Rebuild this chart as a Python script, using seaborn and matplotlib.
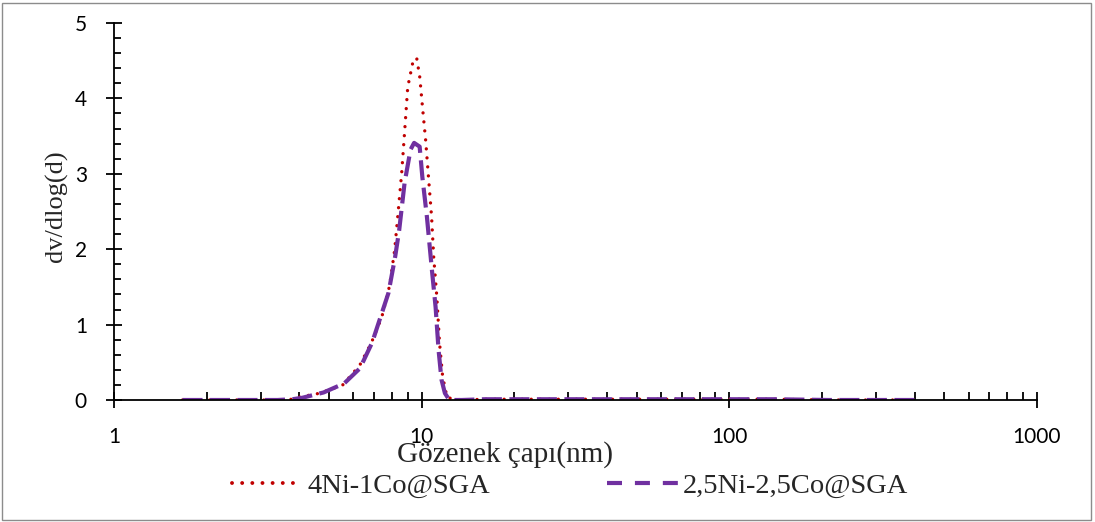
import matplotlib
matplotlib.use("Agg")
import matplotlib.pyplot as plt
import seaborn as sns
import pandas as pd
import numpy as np
from matplotlib.patches import Rectangle
from matplotlib.lines import Line2D
from matplotlib.ticker import LogLocator, FixedLocator, NullFormatter, MultipleLocator

# ---- data ----
pore_red = [1.67, 2.0, 2.4, 2.9, 3.4, 3.8, 4.02, 4.67, 5.54, 6.29, 6.88, 7.41, 7.87, 8.17, 8.36,
            8.61, 8.81, 9.01, 9.35, 9.63, 9.86, 10.08, 10.3, 10.54, 10.77, 10.94, 11.2, 11.43,
            11.7, 12.1, 13.5, 16, 20, 27, 40, 60, 90, 140, 210, 300, 414]
dv_red = [0.0, 0.0, 0.0, 0.0, 0.0, 0.01, 0.04, 0.09, 0.2, 0.46, 0.77, 1.09, 1.52, 1.99, 2.43,
          3.01, 3.58, 4.15, 4.47, 4.54, 4.28, 3.85, 3.45, 2.92, 2.43, 1.9, 1.37, 0.76,
          0.31, 0.03, 0.0, 0.01, 0.01, 0.01, 0.01, 0.01, 0.01, 0.01, 0.0, 0.0, 0.0]

pore_pur = [1.67, 2.0, 2.4, 2.9, 3.4, 3.8, 4.1, 4.8, 5.6, 6.3, 6.9, 7.8, 8.2, 8.45, 8.8, 9.2,
            9.45, 9.85, 10.05, 10.4, 10.8, 11.1, 11.35, 11.6, 11.9, 12.3, 13.5, 16, 20, 27,
            40, 60, 90, 140, 210, 300, 414]
dv_pur = [0.0, 0.0, 0.0, 0.0, 0.0, 0.01, 0.03, 0.1, 0.22, 0.42, 0.76, 1.42, 1.9, 2.25, 2.88, 3.32,
          3.41, 3.36, 2.96, 2.43, 1.72, 1.23, 0.66, 0.27, 0.09, 0.0, 0.0, 0.01, 0.01, 0.01,
          0.01, 0.01, 0.01, 0.01, 0.0, 0.0, 0.0]

series_names = ["4Ni-1Co@SGA", "2,5Ni-2,5Co@SGA"]
x_ticks = [1, 10, 100, 1000]
x_ticklabels = ["1", "10", "100", "1000"]
y_ticks = [0, 1, 2, 3, 4, 5]

df = pd.concat([
    pd.DataFrame({"d": pore_red, "v": dv_red, "s": series_names[0]}),
    pd.DataFrame({"d": pore_pur, "v": dv_pur, "s": series_names[1]}),
], ignore_index=True)

sns.set_theme(style="white")
plt.rcParams["font.family"] = ["Lato", "DejaVu Sans"]

W, H = 1095, 522
fig = plt.figure(figsize=(W / 100, H / 100), dpi=100)
ax = fig.add_axes([114 / W, 1 - 400 / H, (1037 - 114) / W, (400 - 23) / H])

red = "#C00000"
purple = "#7030A0"
sns.lineplot(data=df[df.s == series_names[0]], x="d", y="v", ax=ax, sort=False,
             color=red, lw=2.4, estimator=None, legend=False)
sns.lineplot(data=df[df.s == series_names[1]], x="d", y="v", ax=ax, sort=False,
             color=purple, lw=3.0, estimator=None, legend=False)
l1, l2 = ax.get_lines()[:2]
l1.set_linestyle((0, (0.01, 2.7)))
l1.set_dash_capstyle("round")
l2.set_linestyle((0, (4.8, 1.8)))

ax.set_xscale("log")
ax.set_xlim(1, 1000)
ax.set_ylim(0, 5)
ax.xaxis.set_major_locator(FixedLocator(x_ticks))
ax.set_xticklabels(x_ticklabels)
ax.xaxis.set_minor_locator(LogLocator(base=10, subs=np.arange(2, 10)))
ax.xaxis.set_minor_formatter(NullFormatter())
ax.yaxis.set_major_locator(FixedLocator(y_ticks))
ax.yaxis.set_minor_locator(MultipleLocator(0.2))

for s in ["top", "right"]:
    ax.spines[s].set_visible(False)
for s in ["left", "bottom"]:
    ax.spines[s].set_color("black")
    ax.spines[s].set_linewidth(1.3)

ax.tick_params(axis="both", which="major", direction="inout", length=11, width=1.3,
               colors="black", labelsize=15)
ax.tick_params(axis="x", which="major", pad=14)
ax.tick_params(axis="y", which="major", pad=14)
ax.tick_params(axis="x", which="minor", direction="in", length=6, width=1.3, color="black")
ax.tick_params(axis="y", which="minor", direction="in", length=5, width=1.3, color="black")
ax.tick_params(axis="both", which="both", bottom=True, left=True)

ax.set_xlabel("Gözenek çapı(nm)", family=["Liberation Serif"], fontsize=21)
ax.xaxis.set_label_coords((505 - 114) / 923, (400 - 455) / 377)
ax.xaxis.label.set_va("center")
ax.set_ylabel("dv/dlog(d)", family=["Liberation Serif"], fontsize=19)
ax.yaxis.set_label_coords((56 - 114) / 923, (400 - 206) / 377)
ax.yaxis.label.set_va("center")

# legend below the plot, two entries placed as in the reference
h_red = Line2D([], [], color=red, lw=2.8, linestyle=(0, (0.01, 2.6)), dash_capstyle="round")
h_pur = Line2D([], [], color=purple, lw=3.0, linestyle=(0, (3.6, 3.1)))
ly = 1 - 486 / H
fig.legend(handles=[h_red], labels=[series_names[0]], loc="center left",
           bbox_to_anchor=(232 / W, ly), frameon=False, borderpad=0, borderaxespad=0,
           prop={"family": "Liberation Serif", "size": 20.5},
           handlelength=2.2, handletextpad=0.45)
fig.legend(handles=[h_pur], labels=[series_names[1]], loc="center left",
           bbox_to_anchor=(607 / W, ly), frameon=False, borderpad=0, borderaxespad=0,
           prop={"family": "Liberation Serif", "size": 20.5},
           handlelength=2.5, handletextpad=0.17)

fig.patches.append(Rectangle((0.002, 0.003), 0.994, 0.992, transform=fig.transFigure,
                             fill=False, edgecolor="#8c8c8c", lw=1.0))

fig.savefig("out.png", dpi=100)
